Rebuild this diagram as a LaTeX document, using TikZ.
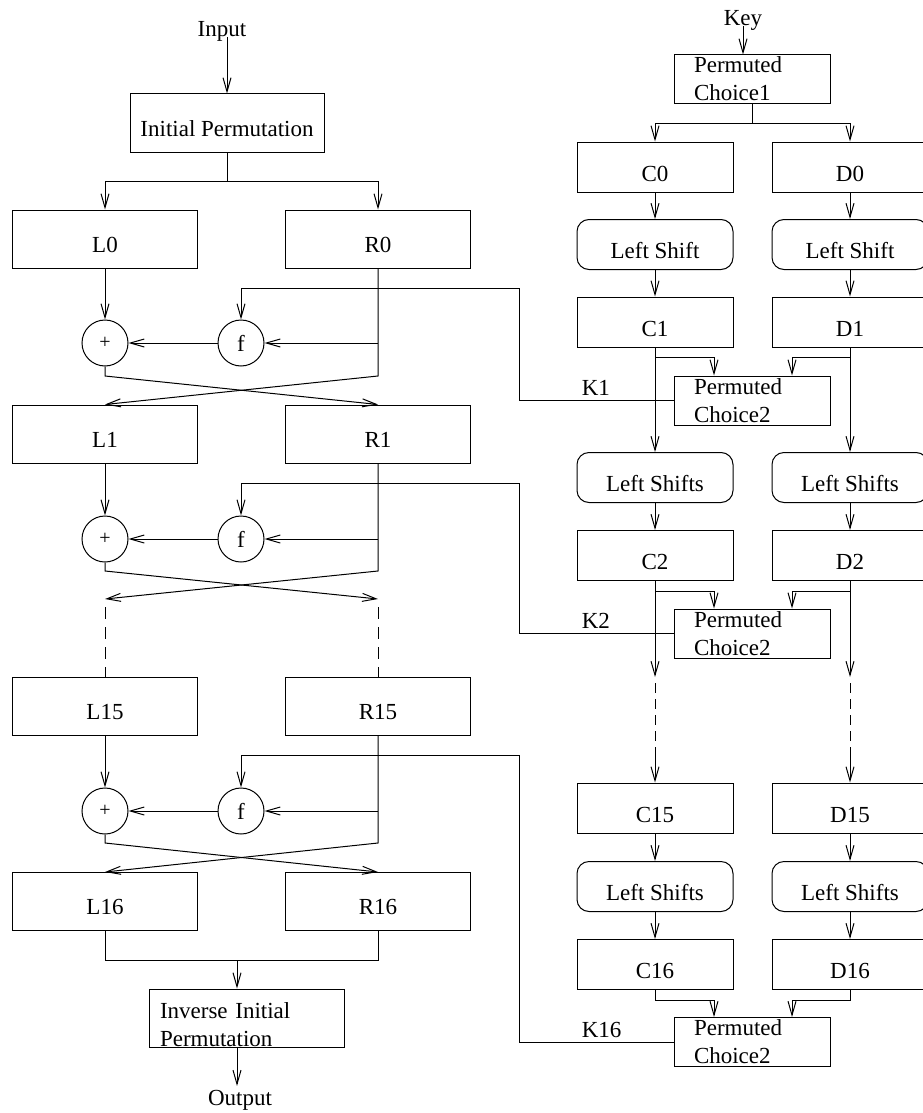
\documentclass[tikz,border=0pt]{standalone}
\usepackage{fontspec}
\setmainfont{Liberation Serif}
\usetikzlibrary{arrows.meta}

\tikzset{
  blk/.style={draw, minimum width=185pt, minimum height=58pt, text height=26pt, text depth=0pt},
  kblk/.style={draw, minimum width=156pt, minimum height=50pt, text height=28pt, text depth=0pt},
  shft/.style={kblk, rounded corners=12pt},
  pcbox/.style={draw, minimum width=156pt, minimum height=49pt, align=left, text width=116pt,
    text height=0pt, text depth=13pt, inner sep=0pt},
  invbox/.style={draw, minimum width=195pt, minimum height=58pt, align=left, text width=173pt,
    text height=0pt, text depth=0pt, inner sep=0pt},
  xorc/.style={draw, circle, minimum size=46pt, inner sep=0pt, font=\fontsize{20}{24}\selectfont},
  fnc/.style={draw, circle, minimum size=46pt, inner sep=0pt},
  gap/.style={dash pattern=on 12pt off 8pt, dash phase=12pt}
}

\begin{document}
\begin{tikzpicture}[x=1pt, y=-1pt, line width=1pt, >={Straight Barb[length=14pt,width=8pt]},
  font=\fontsize{23}{28}\selectfont]
\useasboundingbox (0,0) rectangle (923,1113);

% data path
\node[anchor=base] (in) at (222,37) {Input};
\node[blk, minimum width=194pt] (ip) at (227,123) {Initial Permutation};
\node[blk] (L0) at (105,239) {L0};
\node[blk] (R0) at (378,239) {R0};
\node[xorc] (x1) at (105,343) {+};
\node[fnc] (f1) at (241,343) {f};
\node[blk] (L1) at (105,434) {L1};
\node[blk] (R1) at (378,434) {R1};
\node[xorc] (x2) at (105,539) {+};
\node[fnc] (f2) at (241,539) {f};
\node[blk] (L15) at (105,706.5) {L15};
\node[blk] (R15) at (378,706.5) {R15};
\node[xorc] (x15) at (105,811) {+};
\node[fnc] (f15) at (241,811) {f};
\node[blk] (L16) at (105,901.5) {L16};
\node[blk] (R16) at (378,901.5) {R16};
\node[invbox] (iip) at (246.5,1018) {Inverse Initial\\Permutation};
\node[anchor=base] (out) at (240,1105) {Output};

\coordinate (c1) at (0,376);
\coordinate (c2) at (0,571);
\coordinate (c15) at (0,843);
\coordinate (a2l) at (105,599);
\coordinate (a2r) at (378,599);
\coordinate (j) at (237,960);

\draw[->] (in.base -| ip.north) -- (ip.north);
\draw[->] (ip.south) -- ++(0,29) -| (L0.north);
\draw[->] (ip.south) -- ++(0,29) -| (R0.north);

\draw[->] (L0) -- (x1);
\draw[->] (R0.south |- f1) -- (f1);
\draw[->] (f1) -- (x1);
\draw[->] (x1.south) -- (x1.south |- c1) -- (R1.north);
\draw[->] (R0.south) -- (R0.south |- c1) -- (L1.north);

\draw[->] (L1) -- (x2);
\draw[->] (R1.south |- f2) -- (f2);
\draw[->] (f2) -- (x2);
\draw[->] (x2.south) -- (x2.south |- c2) -- (a2r);
\draw[->] (R1.south) -- (R1.south |- c2) -- (a2l);
\draw[gap] (a2l) -- (L15.north);
\draw[gap] (a2r) -- (R15.north);

\draw[->] (L15) -- (x15);
\draw[->] (R15.south |- f15) -- (f15);
\draw[->] (f15) -- (x15);
\draw[->] (x15.south) -- (x15.south |- c15) -- (R16.north);
\draw[->] (R15.south) -- (R15.south |- c15) -- (L16.north);

\draw (L16.south) -- ++(0,29) -| (R16.south);
\draw[->] (j) -- (j |- iip.north);
\draw[->] (j |- iip.south) -- (j |- out.north);

% key schedule
\node[anchor=base] (key) at (743,26) {Key};
\node[pcbox] (pc1) at (752,79.5) {Permuted\\Choice1};
\node[kblk] (C0) at (655,167) {C0};
\node[kblk] (D0) at (850,167) {D0};
\node[shft] (cs0) at (655,244.5) {Left Shift};
\node[shft] (ds0) at (850,244.5) {Left Shift};
\node[kblk] (C1) at (655,322) {C1};
\node[kblk] (D1) at (850,322) {D1};
\node[pcbox] (pc2a) at (752,400.5) {Permuted\\Choice2};
\node[shft] (cs1) at (655,477.5) {Left Shifts};
\node[shft] (ds1) at (850,477.5) {Left Shifts};
\node[kblk] (C2) at (655,555.5) {C2};
\node[kblk] (D2) at (850,555.5) {D2};
\node[pcbox] (pc2b) at (752,633.5) {Permuted\\Choice2};
\node[kblk] (C15) at (655,808) {C15};
\node[kblk] (D15) at (850,808) {D15};
\node[shft] (cs15) at (655,886.5) {Left Shifts};
\node[shft] (ds15) at (850,886.5) {Left Shifts};
\node[kblk] (C16) at (655,964.5) {C16};
\node[kblk] (D16) at (850,964.5) {D16};
\node[pcbox] (pc2c) at (752,1042) {Permuted\\Choice2};

\node[anchor=base west] (k1) at (578,395) {K1};
\node[anchor=base west] (k2) at (578,628) {K2};
\node[anchor=base west] (k16) at (578,1037) {K16};

\coordinate (b1) at (519,288);
\coordinate (b2) at (519,483);
\coordinate (b16) at (519,755);
\coordinate (cv1) at (655,677);
\coordinate (cv2) at (655,747);
\coordinate (dv1) at (850,677);
\coordinate (dv2) at (850,747);

\draw[->] (key.base) -- (key.base |- pc1.north);
\draw[->] (pc1.south) -- ++(0,19) -| (C0.north);
\draw[->] (pc1.south) -- ++(0,19) -| (D0.north);
\draw[->] (C0) -- (cs0);
\draw[->] (D0) -- (ds0);
\draw[->] (cs0) -- (C1);
\draw[->] (ds0) -- (D1);

\draw[->] (C1) -- (cs1);
\draw[->] (D1) -- (ds1);
\draw[->] (C1.south) -- ++(0,10) -| ([xshift=-38pt]pc2a.north);
\draw[->] (D1.south) -- ++(0,10) -| ([xshift=40pt]pc2a.north);
\draw[->] (cs1) -- (C2);
\draw[->] (ds1) -- (D2);

\draw[->] (C2) -- (cv1);
\draw[->] (D2) -- (dv1);
\draw[->] (C2.south) -- ++(0,10) -| ([xshift=-38pt]pc2b.north);
\draw[->] (D2.south) -- ++(0,10) -| ([xshift=40pt]pc2b.north);
\draw[dash pattern=on 10pt off 6pt, dash phase=10pt] (cv1) -- (cv2);
\draw[dash pattern=on 10pt off 6pt, dash phase=10pt] (dv1) -- (dv2);
\draw[->] (cv2) -- (C15);
\draw[->] (dv2) -- (D15);

\draw[->] (C15) -- (cs15);
\draw[->] (D15) -- (ds15);
\draw[->] (cs15) -- (C16);
\draw[->] (ds15) -- (D16);
\draw[->] (C16.south) -- ++(0,10) -| ([xshift=-38pt]pc2c.north);
\draw[->] (D16.south) -- ++(0,10) -| ([xshift=40pt]pc2c.north);

% subkeys into f
\draw[->] (pc2a.west) -| (b1) -| (f1.north);
\draw[->] (pc2b.west) -| (b2) -| (f2.north);
\draw[->] (pc2c.west) -| (b16) -| (f15.north);
\end{tikzpicture}
\end{document}
